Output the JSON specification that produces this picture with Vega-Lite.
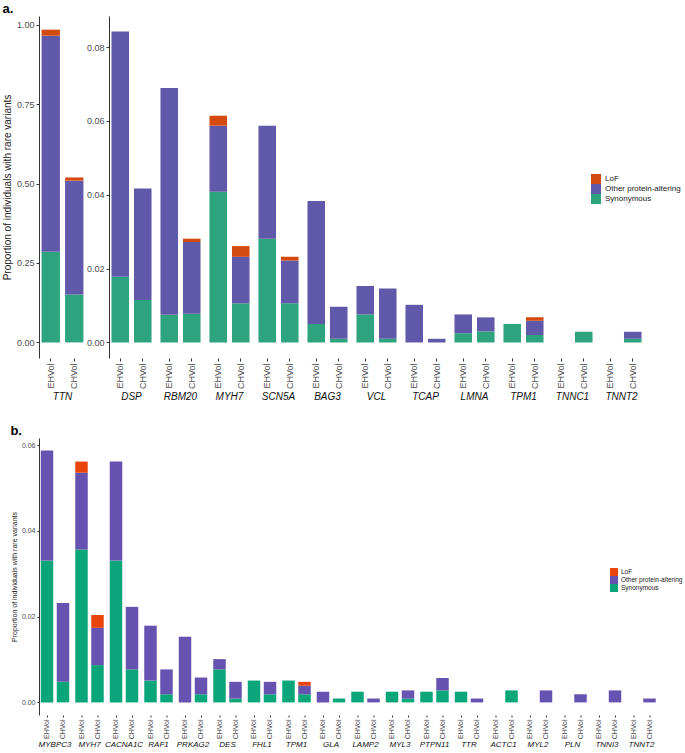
{
  "$schema": "https://vega.github.io/schema/vega-lite/v6.json",
  "padding": {"left": 2, "top": 3, "right": 2, "bottom": 0},
  "background": "white",
  "config": {
    "font": "Liberation Sans",
    "view": {"stroke": null},
    "axis": {"grid": false, "labelColor": "#4D4D4D", "domainColor": "#333333", "tickColor": "#333333", "titleFontWeight": "normal", "titleColor": "#222222"},
    "header": {"title": null, "labelOrient": "bottom", "labelFontStyle": "italic", "labelColor": "#111111", "labelPadding": 3},
    "legend": {"title": null, "symbolType": "square", "symbolStrokeWidth": 0, "symbolOpacity": 1, "rowPadding": 0, "labelColor": "#222222", "labelLimit": 200}
  },
  "datasets": {
    "a": [
      {"gene": "TTN", "group": "EHVol", "type": "Synonymous", "value": 0.285},
      {"gene": "TTN", "group": "EHVol", "type": "Other protein-altering", "value": 0.68},
      {"gene": "TTN", "group": "EHVol", "type": "LoF", "value": 0.019},
      {"gene": "TTN", "group": "CHVol", "type": "Synonymous", "value": 0.151},
      {"gene": "TTN", "group": "CHVol", "type": "Other protein-altering", "value": 0.358},
      {"gene": "TTN", "group": "CHVol", "type": "LoF", "value": 0.010},
      {"gene": "DSP", "group": "EHVol", "type": "Synonymous", "value": 0.0178},
      {"gene": "DSP", "group": "EHVol", "type": "Other protein-altering", "value": 0.0664},
      {"gene": "DSP", "group": "CHVol", "type": "Synonymous", "value": 0.0115},
      {"gene": "DSP", "group": "CHVol", "type": "Other protein-altering", "value": 0.0302},
      {"gene": "RBM20", "group": "EHVol", "type": "Synonymous", "value": 0.0075},
      {"gene": "RBM20", "group": "EHVol", "type": "Other protein-altering", "value": 0.0614},
      {"gene": "RBM20", "group": "CHVol", "type": "Synonymous", "value": 0.0078},
      {"gene": "RBM20", "group": "CHVol", "type": "Other protein-altering", "value": 0.0194},
      {"gene": "RBM20", "group": "CHVol", "type": "LoF", "value": 0.0009},
      {"gene": "MYH7", "group": "EHVol", "type": "Synonymous", "value": 0.0408},
      {"gene": "MYH7", "group": "EHVol", "type": "Other protein-altering", "value": 0.0179},
      {"gene": "MYH7", "group": "EHVol", "type": "LoF", "value": 0.0027},
      {"gene": "MYH7", "group": "CHVol", "type": "Synonymous", "value": 0.0106},
      {"gene": "MYH7", "group": "CHVol", "type": "Other protein-altering", "value": 0.0126},
      {"gene": "MYH7", "group": "CHVol", "type": "LoF", "value": 0.0029},
      {"gene": "SCN5A", "group": "EHVol", "type": "Synonymous", "value": 0.0281},
      {"gene": "SCN5A", "group": "EHVol", "type": "Other protein-altering", "value": 0.0306},
      {"gene": "SCN5A", "group": "CHVol", "type": "Synonymous", "value": 0.0106},
      {"gene": "SCN5A", "group": "CHVol", "type": "Other protein-altering", "value": 0.0116},
      {"gene": "SCN5A", "group": "CHVol", "type": "LoF", "value": 0.0010},
      {"gene": "BAG3", "group": "EHVol", "type": "Synonymous", "value": 0.0050},
      {"gene": "BAG3", "group": "EHVol", "type": "Other protein-altering", "value": 0.0333},
      {"gene": "BAG3", "group": "CHVol", "type": "Synonymous", "value": 0.0010},
      {"gene": "BAG3", "group": "CHVol", "type": "Other protein-altering", "value": 0.0087},
      {"gene": "VCL", "group": "EHVol", "type": "Synonymous", "value": 0.0076},
      {"gene": "VCL", "group": "EHVol", "type": "Other protein-altering", "value": 0.0077},
      {"gene": "VCL", "group": "CHVol", "type": "Synonymous", "value": 0.0010},
      {"gene": "VCL", "group": "CHVol", "type": "Other protein-altering", "value": 0.0136},
      {"gene": "TCAP", "group": "EHVol", "type": "Other protein-altering", "value": 0.0102},
      {"gene": "TCAP", "group": "CHVol", "type": "Other protein-altering", "value": 0.0010},
      {"gene": "LMNA", "group": "EHVol", "type": "Synonymous", "value": 0.0025},
      {"gene": "LMNA", "group": "EHVol", "type": "Other protein-altering", "value": 0.0051},
      {"gene": "LMNA", "group": "CHVol", "type": "Synonymous", "value": 0.0030},
      {"gene": "LMNA", "group": "CHVol", "type": "Other protein-altering", "value": 0.0038},
      {"gene": "TPM1", "group": "EHVol", "type": "Synonymous", "value": 0.0050},
      {"gene": "TPM1", "group": "CHVol", "type": "Synonymous", "value": 0.0020},
      {"gene": "TPM1", "group": "CHVol", "type": "Other protein-altering", "value": 0.0039},
      {"gene": "TPM1", "group": "CHVol", "type": "LoF", "value": 0.0009},
      {"gene": "TNNC1", "group": "CHVol", "type": "Synonymous", "value": 0.0029},
      {"gene": "TNNT2", "group": "CHVol", "type": "Synonymous", "value": 0.0010},
      {"gene": "TNNT2", "group": "CHVol", "type": "Other protein-altering", "value": 0.0019}
    ],
    "b": [
      {"gene": "MYBPC3", "group": "EHVol", "type": "Synonymous", "value": 0.0331},
      {"gene": "MYBPC3", "group": "EHVol", "type": "Other protein-altering", "value": 0.0257},
      {"gene": "MYBPC3", "group": "CHVol", "type": "Synonymous", "value": 0.0048},
      {"gene": "MYBPC3", "group": "CHVol", "type": "Other protein-altering", "value": 0.0184},
      {"gene": "MYH7", "group": "EHVol", "type": "Synonymous", "value": 0.0357},
      {"gene": "MYH7", "group": "EHVol", "type": "Other protein-altering", "value": 0.0179},
      {"gene": "MYH7", "group": "EHVol", "type": "LoF", "value": 0.0026},
      {"gene": "MYH7", "group": "CHVol", "type": "Synonymous", "value": 0.0087},
      {"gene": "MYH7", "group": "CHVol", "type": "Other protein-altering", "value": 0.0087},
      {"gene": "MYH7", "group": "CHVol", "type": "LoF", "value": 0.0030},
      {"gene": "CACNA1C", "group": "EHVol", "type": "Synonymous", "value": 0.0331},
      {"gene": "CACNA1C", "group": "EHVol", "type": "Other protein-altering", "value": 0.0231},
      {"gene": "CACNA1C", "group": "CHVol", "type": "Synonymous", "value": 0.0077},
      {"gene": "CACNA1C", "group": "CHVol", "type": "Other protein-altering", "value": 0.0146},
      {"gene": "RAF1", "group": "EHVol", "type": "Synonymous", "value": 0.0051},
      {"gene": "RAF1", "group": "EHVol", "type": "Other protein-altering", "value": 0.0128},
      {"gene": "RAF1", "group": "CHVol", "type": "Synonymous", "value": 0.0019},
      {"gene": "RAF1", "group": "CHVol", "type": "Other protein-altering", "value": 0.0058},
      {"gene": "PRKAG2", "group": "EHVol", "type": "Other protein-altering", "value": 0.0153},
      {"gene": "PRKAG2", "group": "CHVol", "type": "Synonymous", "value": 0.0019},
      {"gene": "PRKAG2", "group": "CHVol", "type": "Other protein-altering", "value": 0.0039},
      {"gene": "DES", "group": "EHVol", "type": "Synonymous", "value": 0.0077},
      {"gene": "DES", "group": "EHVol", "type": "Other protein-altering", "value": 0.0024},
      {"gene": "DES", "group": "CHVol", "type": "Synonymous", "value": 0.0009},
      {"gene": "DES", "group": "CHVol", "type": "Other protein-altering", "value": 0.0039},
      {"gene": "FHL1", "group": "EHVol", "type": "Synonymous", "value": 0.0051},
      {"gene": "FHL1", "group": "CHVol", "type": "Synonymous", "value": 0.0019},
      {"gene": "FHL1", "group": "CHVol", "type": "Other protein-altering", "value": 0.0029},
      {"gene": "TPM1", "group": "EHVol", "type": "Synonymous", "value": 0.0051},
      {"gene": "TPM1", "group": "CHVol", "type": "Synonymous", "value": 0.0019},
      {"gene": "TPM1", "group": "CHVol", "type": "Other protein-altering", "value": 0.0020},
      {"gene": "TPM1", "group": "CHVol", "type": "LoF", "value": 0.0009},
      {"gene": "GLA", "group": "EHVol", "type": "Other protein-altering", "value": 0.0025},
      {"gene": "GLA", "group": "CHVol", "type": "Synonymous", "value": 0.0009},
      {"gene": "LAMP2", "group": "EHVol", "type": "Synonymous", "value": 0.0025},
      {"gene": "LAMP2", "group": "CHVol", "type": "Other protein-altering", "value": 0.0009},
      {"gene": "MYL3", "group": "EHVol", "type": "Synonymous", "value": 0.0025},
      {"gene": "MYL3", "group": "CHVol", "type": "Synonymous", "value": 0.0009},
      {"gene": "MYL3", "group": "CHVol", "type": "Other protein-altering", "value": 0.0019},
      {"gene": "PTPN11", "group": "EHVol", "type": "Synonymous", "value": 0.0025},
      {"gene": "PTPN11", "group": "CHVol", "type": "Synonymous", "value": 0.0028},
      {"gene": "PTPN11", "group": "CHVol", "type": "Other protein-altering", "value": 0.0029},
      {"gene": "TTR", "group": "EHVol", "type": "Synonymous", "value": 0.0025},
      {"gene": "TTR", "group": "CHVol", "type": "Other protein-altering", "value": 0.0009},
      {"gene": "ACTC1", "group": "CHVol", "type": "Synonymous", "value": 0.0028},
      {"gene": "MYL2", "group": "CHVol", "type": "Other protein-altering", "value": 0.0028},
      {"gene": "PLN", "group": "CHVol", "type": "Other protein-altering", "value": 0.0019},
      {"gene": "TNNI3", "group": "CHVol", "type": "Other protein-altering", "value": 0.0028},
      {"gene": "TNNT2", "group": "CHVol", "type": "Other protein-altering", "value": 0.0009}
    ]
  },
  "vconcat": [
    {
      "title": {"text": "a.", "anchor": "start", "fontSize": 13, "fontWeight": "bold", "offset": 0, "color": "#000000"},
      "spacing": 0,
      "resolve": {"scale": {"y": "independent", "x": "independent"}},
      "hconcat": [
        {
          "data": {"name": "a"},
          "transform": [{"filter": "datum.gene === 'TTN'"}],
          "facet": {"column": {"field": "gene", "type": "nominal", "header": {"labelFontSize": 10}}},
          "spacing": 4,
          "spec": {
            "width": 47,
            "height": 342,
            "mark": {"type": "bar"},
            "encoding": {
              "x": {"field": "group", "type": "nominal", "scale": {"domain": ["EHVol", "CHVol"], "paddingInner": 0.22, "paddingOuter": 0.11}, "axis": {"title": null, "labelAngle": -90, "domain": false, "labelFontSize": 9, "tickSize": 3}},
              "y": {"field": "value", "type": "quantitative", "stack": "zero", "scale": {"domain": [-0.049, 1.027], "nice": false, "zero": false}, "axis": {"title": "Proportion of individuals with rare variants", "titleFontSize": 10, "labelFontSize": 9, "values": [0, 0.25, 0.5, 0.75, 1.0], "format": ".2f", "tickSize": 3}},
              "color": {"field": "type", "type": "nominal", "scale": {"domain": ["LoF", "Other protein-altering", "Synonymous"], "range": ["#D44A0E", "#6058A8", "#2DA37E"]}, "legend": {"orient": "none", "legendX": 552, "legendY": 158, "labelFontSize": 8, "labelOffset": 4, "symbolSize": 100}},
              "order": {"field": "type", "sort": "descending"}
            }
          }
        },
        {
          "data": {"name": "a"},
          "transform": [{"filter": "datum.gene !== 'TTN'"}],
          "facet": {"column": {"field": "gene", "type": "nominal", "sort": ["DSP", "RBM20", "MYH7", "SCN5A", "BAG3", "VCL", "TCAP", "LMNA", "TPM1", "TNNC1", "TNNT2"], "header": {"labelFontSize": 10}}},
          "spacing": 4,
          "spec": {
            "width": 45,
            "height": 342,
            "mark": {"type": "bar"},
            "encoding": {
              "x": {"field": "group", "type": "nominal", "scale": {"domain": ["EHVol", "CHVol"], "paddingInner": 0.22, "paddingOuter": 0.11}, "axis": {"title": null, "labelAngle": -90, "domain": false, "labelFontSize": 9, "tickSize": 3}},
              "y": {"field": "value", "type": "quantitative", "stack": "zero", "scale": {"domain": [-0.0042, 0.0884], "nice": false, "zero": false}, "axis": {"title": null, "labelFontSize": 9, "values": [0, 0.02, 0.04, 0.06, 0.08], "format": ".2f", "tickSize": 3}},
              "color": {"field": "type", "type": "nominal", "scale": {"domain": ["LoF", "Other protein-altering", "Synonymous"], "range": ["#D44A0E", "#6058A8", "#2DA37E"]}, "legend": {"orient": "none", "legendX": 552, "legendY": 158, "labelFontSize": 8, "labelOffset": 4, "symbolSize": 100}},
              "order": {"field": "type", "sort": "descending"}
            }
          }
        }
      ]
    },
    {
      "title": {"text": "b.", "anchor": "start", "fontSize": 13, "fontWeight": "bold", "offset": 0, "color": "#000000"},
      "data": {"name": "b"},
      "facet": {"column": {"field": "gene", "type": "nominal", "sort": ["MYBPC3", "MYH7", "CACNA1C", "RAF1", "PRKAG2", "DES", "FHL1", "TPM1", "GLA", "LAMP2", "MYL3", "PTPN11", "TTR", "ACTC1", "MYL2", "PLN", "TNNI3", "TNNT2"], "header": {"labelFontSize": 8, "labelPadding": 2}}},
      "spacing": 2.5,
      "spec": {
        "width": 32,
        "height": 277,
        "mark": {"type": "bar"},
        "encoding": {
          "x": {"field": "group", "type": "nominal", "scale": {"domain": ["EHVol", "CHVol"], "paddingInner": 0.22, "paddingOuter": 0.11}, "axis": {"title": null, "labelAngle": -90, "domain": false, "labelFontSize": 7, "tickSize": 2}},
          "y": {"field": "value", "type": "quantitative", "stack": "zero", "scale": {"domain": [-0.00294, 0.0617], "nice": false, "zero": false}, "axis": {"title": "Proportion of individuals with rare variants", "titleFontSize": 7, "labelFontSize": 7, "values": [0, 0.02, 0.04, 0.06], "format": ".2f", "tickSize": 2}},
          "color": {"field": "type", "type": "nominal", "scale": {"domain": ["LoF", "Other protein-altering", "Synonymous"], "range": ["#E8440C", "#6652B0", "#0AA67A"]}, "legend": {"orient": "none", "legendX": 571, "legendY": 130, "labelFontSize": 6.5, "labelOffset": 3, "symbolSize": 64}},
          "order": {"field": "type", "sort": "descending"}
        }
      }
    }
  ],
  "spacing": 23,
  "resolve": {"scale": {"color": "independent"}, "legend": {"color": "independent"}}
}
